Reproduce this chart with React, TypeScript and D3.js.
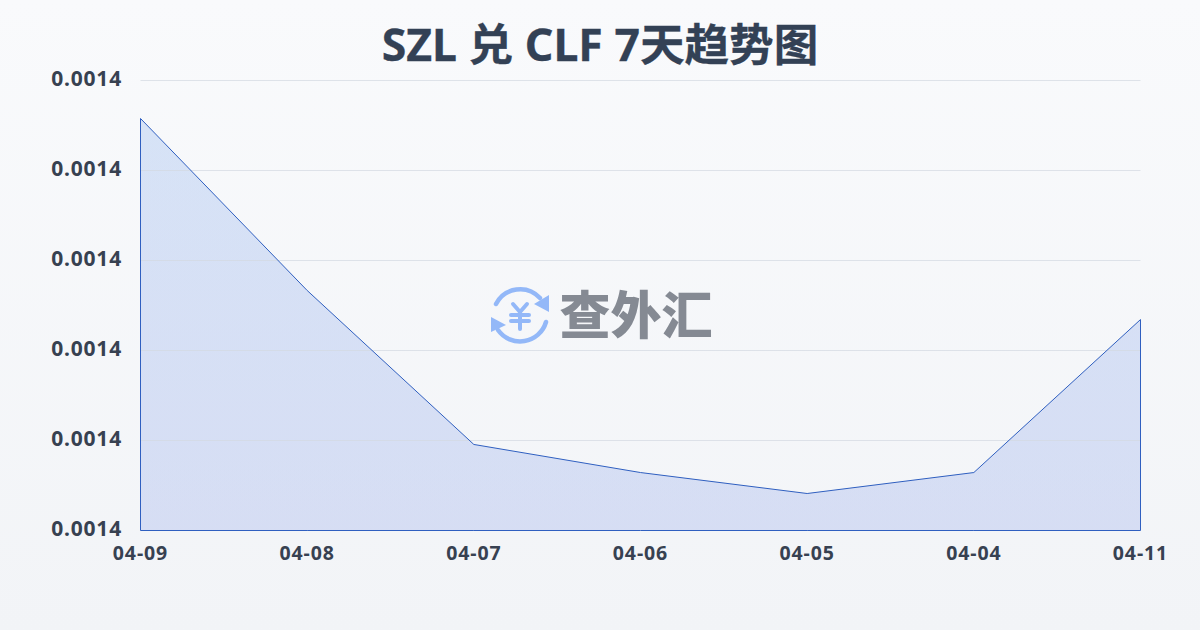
import React from "react";
import * as d3 from "d3";

const dates = ["04-09", "04-08", "04-07", "04-06", "04-05", "04-04", "04-11"];
const rates = [0.00142578, 0.00140667, 0.00138956, 0.00138644, 0.00138411, 0.00138644, 0.00140344];
const yTicks = [0.00138, 0.00139, 0.0014, 0.00141, 0.00142, 0.00143];
const titleText = "SZL 兑 CLF 7天趋势图";
const watermark = "查外汇";

const FONT = "'Noto Sans', 'Noto Sans CJK SC', sans-serif";
const W = 1200, H = 630;
const L = 140.5, R = 1140.5, T = 80.5, B = 530.5;

export default function App() {
  const x = d3.scalePoint<string>().domain(dates).range([L, R]);
  const y = d3.scaleLinear().domain([0.00138, 0.00143]).range([B, T]);
  const pts = rates.map((v, i) => [x(dates[i]) as number, y(v)] as [number, number]);
  const area = d3.area<[number, number]>().x(d => d[0]).y0(B).y1(d => d[1])(pts) as string;
  return (
    <svg width={W} height={H} viewBox={`0 0 ${W} ${H}`} style={{ position: "fixed", left: 0, top: 0 }}>
      <defs>
        <linearGradient id="bg" x1="0" y1="0" x2="0" y2="1">
          <stop offset="0" stopColor="#f9fafc" />
          <stop offset="1" stopColor="#f2f4f7" />
        </linearGradient>
        <linearGradient id="fa" x1="0" y1="0" x2="0" y2="1">
          <stop offset="0" stopColor="#a9c4f0" stopOpacity={0.42} />
          <stop offset="1" stopColor="#aebdee" stopOpacity={0.42} />
        </linearGradient>
      </defs>
      <rect width={W} height={H} fill="url(#bg)" />
      <text x={600} y={61} textAnchor="middle" fontFamily={FONT} fontWeight={700} fontSize={44.6} fill="#334155" stroke="#334155" strokeWidth={0.3}>{titleText}</text>
      <path d={area} fill="url(#fa)" />
      {yTicks.map((t, i) => (
        <g key={i}>
          <line x1={L} x2={R} y1={y(t)} y2={y(t)} stroke="#d3d8e1" strokeOpacity={0.7} strokeWidth={1} />
          <text x={122} y={y(t) - 1.5} dy="0.35em" textAnchor="end" fontFamily={FONT} fontWeight={700} fontSize={21} letterSpacing={0.8} fill="#374151">{t.toFixed(4)}</text>
        </g>
      ))}
      <path d={area} fill="none" stroke="#2f5fc0" strokeWidth={1} />
      {dates.map(d => (
        <text key={d} x={x(d)} y={560} textAnchor="middle" fontFamily={FONT} fontWeight={700} fontSize={19.5} letterSpacing={0.9} fill="#374151">{d}</text>
      ))}
      <g fill="none" stroke="#93b8f8" strokeWidth={4.5} strokeLinecap="round">
        <path d="M496 304 A27 27 0 0 1 540 298" />
        <path d="M546 322 A27 27 0 0 1 498 330" />
        <path d="M513 304 L520 312 L527 304 M511 315 H529 M511 321 H529 M520 312 V329" strokeWidth={4} />
      </g>
      <path d="M549 295 L549 312 L534 304 Z M491 317 L491 332 L506 325 Z" fill="#93b8f8" />
      <text x={636} y={334} textAnchor="middle" fontFamily="'Noto Sans CJK SC', sans-serif" fontWeight={900} fontSize={51} fill="#858a93">{watermark}</text>
    </svg>
  );
}
